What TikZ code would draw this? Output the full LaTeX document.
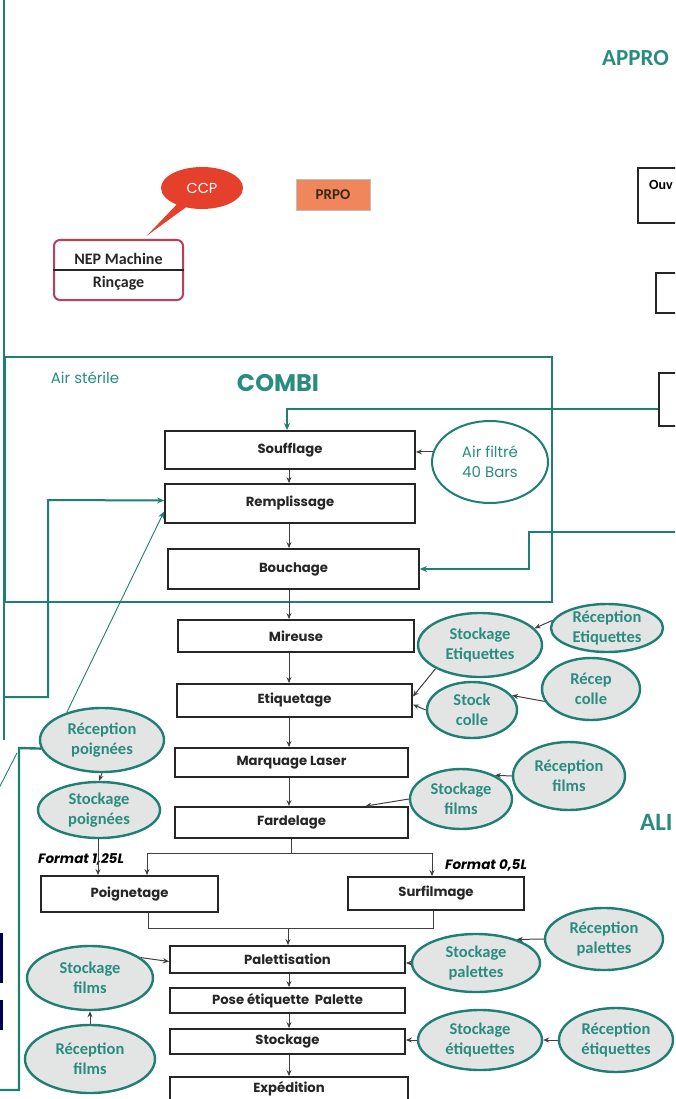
\documentclass[tikz,border=0pt]{standalone}
\usepackage{fontspec}
\setmainfont{Carlito}
\newfontfamily\comic{Poppins}
\usetikzlibrary{arrows.meta,calc,shapes.geometric,shapes.callouts}
\definecolor{tealc}{HTML}{1F7F73}
\definecolor{tealtxt}{HTML}{2A8C7E}
\definecolor{ellfill}{HTML}{E3E5E5}
\definecolor{ccpred}{HTML}{E5402B}
\definecolor{prpoc}{HTML}{F0875C}
\definecolor{nepc}{HTML}{B7405C}
\tikzset{
  stepbox/.style={draw=black!85, line width=1.8pt, inner sep=0pt, text=black!85,
    font=\comic\bfseries\fontsize{13.2}{15}\selectfont},
  rbox/.style={draw=black!85, line width=1.8pt, inner sep=0pt},
  ell/.style={ellipse, draw=tealc, line width=2.4pt, fill=ellfill, inner sep=0pt},
  elltext/.style={text=tealtxt, align=center, inner sep=0pt,
    font=\bfseries\fontsize{16.5}{20}\selectfont},
  arr/.style={-{Stealth[length=6pt,width=5pt]}, line width=1pt, draw=black!75},
  tarr/.style={-{Stealth[length=7pt,width=6pt]}, line width=1.5pt, draw=tealc},
  tline/.style={line width=2.4pt, draw=tealc},
  ttl/.style={text=tealtxt, inner sep=0pt},
}
\newcommand\Ell[5]{\node[ell,minimum width=#3pt,minimum height=#4pt] (#1) at #2 {};
  \node[elltext] at (#1.center) {#5};}
\begin{document}
\begin{tikzpicture}[x=1pt,y=-1pt]
\useasboundingbox (0,0) rectangle (675,1099);
\clip (0,0) rectangle (675,1099);
\fill[white] (0,0) rectangle (675,1099);

% titles
\node[ttl, anchor=west, font=\bfseries\fontsize{23}{26}\selectfont] (appro) at (602,58) {APPRO};
\node[ttl, anchor=west, font=\bfseries\fontsize{25}{28}\selectfont] (ali) at (640,822) {ALI};

% top left
\node[fill=prpoc, draw=black!25, line width=0.6pt, minimum width=74pt, minimum height=31pt,
  text=black!70!brown, font=\bfseries\fontsize{15}{17}\selectfont] (prpo) at (333,195) {PRPO};
\node[draw=nepc, line width=2pt, rounded corners=6pt, minimum width=129pt, minimum height=60pt] (nep) at (118.5,270) {};
\draw[black!85, line width=1.4pt] (nep.west) -- (nep.east);
\node[font=\bfseries\fontsize{16}{18}\selectfont, text=black!85] (nept) at (118.5,259) {NEP Machine};
\node[font=\bfseries\fontsize{16}{18}\selectfont, text=black!85] (rint) at (118.5,283) {Rinçage};
\node[ellipse callout, fill=ccpred, minimum width=82pt, minimum height=42pt, text=white,
  callout absolute pointer={($(nep.north)+(28,-3)$)}, font=\comic\fontsize{14.5}{16}\selectfont] (ccp) at (202,188) {CCP};

% right partial boxes
\node[rbox, minimum width=90pt, minimum height=55pt, anchor=north west] (ouv) at (637,167) {};
\node[anchor=west, inner sep=0pt, font=\bfseries\fontsize{14}{16}\selectfont] (ouvt) at (649,185) {Ouv};
\node[rbox, minimum width=70pt, minimum height=40pt, anchor=north west] (b2) at (655,272) {};
\node[rbox, minimum width=70pt, minimum height=53pt, anchor=north west] (b3) at (658,372) {};

% left frame line and COMBI box
\node[draw=tealc, line width=2.6pt, minimum width=547pt, minimum height=245pt, inner sep=0pt] (combi) at (278.5,479.5) {};
\draw[tline] (4,-5) -- (4,740);
\node[ttl, font=\comic\fontsize{15}{17}\selectfont] (airst) at (85,378) {Air stérile};
\node[ttl, font=\comic\bfseries\fontsize{24}{27}\selectfont] (combit) at (278,383) {COMBI};

% process boxes
\node[stepbox, minimum width=250pt, minimum height=38pt] (souf) at (290,450) {Soufflage};
\node[stepbox, minimum width=250pt, minimum height=39pt] (remp) at (290,503.5) {Remplissage};
\node[stepbox, minimum width=251pt, minimum height=40pt] (bouch) at (293.5,569) {Bouchage};
\node[stepbox, minimum width=236pt, minimum height=32pt] (mir) at (296,636) {Mireuse};
\node[stepbox, minimum width=235pt, minimum height=33pt] (etiq) at (294.5,700.5) {Etiquetage};
\node[stepbox, minimum width=233pt, minimum height=29pt] (marq) at (291.5,762.5) {Marquage Laser};
\node[stepbox, minimum width=233pt, minimum height=31pt] (fard) at (291.5,822.5) {Fardelage};
\node[stepbox, minimum width=177pt, minimum height=36pt] (poig) at (129.5,894) {Poignetage};
\node[stepbox, minimum width=176pt, minimum height=33pt] (surf) at (436,893.5) {Surfilmage};
\node[stepbox, minimum width=235pt, minimum height=27pt] (pal) at (287.5,959.5) {Palettisation};
\node[stepbox, minimum width=235pt, minimum height=25pt] (pose) at (287.5,1000.5) {Pose étiquette\ \ Palette};
\node[stepbox, minimum width=235pt, minimum height=25pt] (stock) at (287.5,1041.5) {Stockage};
\node[stepbox, minimum width=238pt, minimum height=38pt, text height=9pt, text depth=17pt] (exp) at (289,1096) {Expédition};

% main flow
\coordinate (ax) at (289,0);
\draw[arr] (souf.south -| ax) -- (remp.north -| ax);
\draw[arr] (remp.south -| ax) -- (bouch.north -| ax);
\draw[arr] (bouch.south -| ax) -- (mir.north -| ax);
\draw[arr] (mir.south -| ax) -- (etiq.north -| ax);
\draw[arr] (etiq.south -| ax) -- (marq.north -| ax);
\draw[arr] (marq.south -| ax) -- (fard.north -| ax);
\coordinate (split) at (291,853);
\coordinate (pl) at (147,853);
\coordinate (pr) at (432,853);
\draw[line width=1pt, black!75] (fard.south -| split) -- (split);
\draw[arr] (split) -- (pl) -- (pl |- poig.north);
\draw[arr] (split) -- (pr) -- (pr |- surf.north);
\coordinate (ml) at (148,928);
\coordinate (mr) at (433,928);
\coordinate (mm) at (288,928);
\draw[line width=1pt, black!75] (poig.south -| ml) -- (ml) -- (mr) -- (surf.south -| mr);
\draw[arr] (mm) -- (pal.north -| mm);
\draw[arr] (pal.south -| ax) -- (pose.north -| ax);
\draw[arr] (pose.south -| ax) -- (stock.north -| ax);
\draw[arr] (stock.south -| ax) -- (exp.north -| ax);

% format labels
\node[anchor=west, inner sep=0pt, font=\comic\bfseries\itshape\fontsize{13.5}{15}\selectfont] (f125) at (38,859) {Format 1,25L};
\node[anchor=west, inner sep=0pt, font=\comic\bfseries\itshape\fontsize{13.5}{15}\selectfont] (f05) at (445,865) {Format 0,5L};

% air filtre
\node[ellipse, draw=tealc, line width=2pt, fill=white, minimum width=116pt, minimum height=82pt] (afl) at (490,462) {};
\node[ttl, align=center, font=\comic\fontsize{15}{20}\selectfont] (aflt) at (afl.center) {Air filtré\\40 Bars};
\draw[arr] (afl.170) -- (souf.east |- afl.170);

% ellipses right
\Ell{re}{(607,628)}{112}{48}{Réception\\Etiquettes}
\Ell{se}{(480,645)}{124}{64}{Stockage\\Etiquettes}
\Ell{sc}{(472,710)}{90}{56}{Stock\\colle}
\Ell{rc}{(591,689)}{98}{62}{Récep\\colle}
\Ell{rfR}{(569,776)}{112}{68}{Réception\\films}
\Ell{sfR}{(461,799)}{102}{60}{Stockage\\films}
\Ell{rpal}{(604,939)}{118}{62}{Réception\\palettes}
\Ell{spal}{(476,963)}{128}{58}{Stockage\\palettes}
\Ell{sete}{(480,1040)}{124}{60}{Stockage\\étiquettes}
\Ell{rete}{(616,1040)}{114}{64}{Réception\\étiquettes}
% ellipses left
\Ell{rp}{(102,740)}{124}{64}{Réception\\poignées}
\Ell{sp}{(99,810)}{122}{56}{Stockage\\poignées}
\Ell{sfL}{(90,978)}{126}{64}{Stockage\\films}
\Ell{rfL}{(90,1059)}{130}{68}{Réception\\films}

% ellipse connectors
\draw[arr] (re.172) -- (se.17);
\draw[arr] (se.208) -- ($(etiq.east)+(0,-4)$);
\draw[arr] (sc.west) -- ($(etiq.east)+(0,4)$);
\draw[arr] (rc.195) -- (sc.20);
\draw[arr] (rfR.west) -- (sfR.35);
\draw[arr] (sfR.west) -- ($(fard.north west)!0.815!(fard.north east)$);
\draw[arr] (rpal.west) -- (spal.30);
\draw[arr] (spal.west) -- (pal.east |- spal.west);
\draw[arr] (rete.west) -- (sete.east);
\draw[arr] (sete.west) -- (stock.east |- sete.west);
\draw[arr] (sfL.22) -- ($(pal.west)+(0,2)$);
\draw[arr] (rfL.north) -- (sfL.south);
\draw[arr] (rp.south) -- (sp.north);
\draw[arr] (sp.south -| 98,0) -- (poig.north -| 98,0);

% teal feed lines
\coordinate (tc) at (287,409);
\draw[tarr] (b3.west |- tc) -- (tc) -- (tc |- souf.north);
\coordinate (rin) at (680,532);
\coordinate (bc) at (529,532);
\draw[tarr] (rin) -- (bc) -- (bc |- bouch.east) -- (bouch.east);
\coordinate (lp) at (48,697);
\draw[tarr, line width=2pt] (4,697) -- (lp) -- (lp |- 0,500) -- ($(remp.west)+(0,-3)$);
\draw[tarr, line width=0.9pt] (rp.142) -- ($(remp.west)+(0,8)$);

% bottom-left partial box
\draw[tline] (-5,1090) -- (19,1090) -- (19,748) -- (rp.188);
\draw[tealc, line width=0.9pt] (17,753) -- (-2,790);
\fill[black!70!blue] (0,933) rectangle (2.5,983);
\fill[black!70!blue] (0,1000) rectangle (2.5,1030);
\end{tikzpicture}
\end{document}
